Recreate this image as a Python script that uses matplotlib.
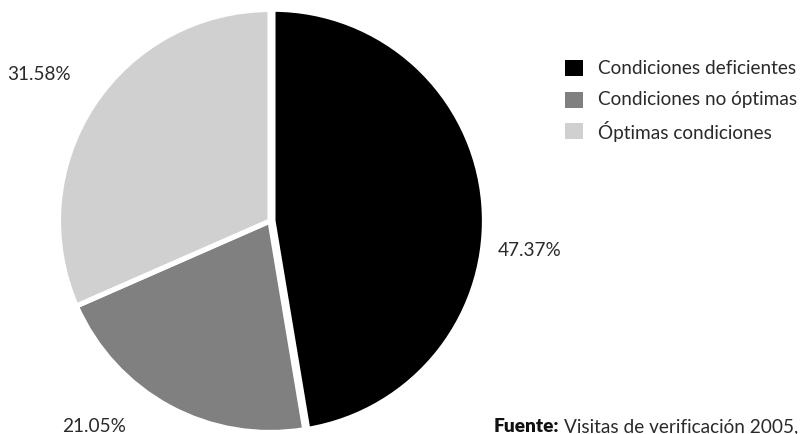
import matplotlib
matplotlib.use("Agg")
import matplotlib.pyplot as plt

plt.rcParams["font.family"] = ["Lato", "DejaVu Sans"]

# Data
categories = ["Condiciones deficientes", "Condiciones no óptimas", "Óptimas condiciones"]
values = [47.37, 21.05, 31.58]
colors = ["#000000", "#808080", "#d0d0d0"]
source_bold = "Fuente:"
source_text = "Visitas de verificación 2005,"

W, H = 803, 434
fig = plt.figure(figsize=(W / 100, H / 100), dpi=100)
ax = fig.add_axes([0, 0, 1, 1])

# pie geometry in pixel space (1 data unit = radius)
cx, cy, R = 270, 221, 211.5
explode = [0.014, 0, 0]

wedges, _ = ax.pie(
    values, colors=colors, startangle=90, counterclock=False,
    explode=explode, radius=1.0,
    wedgeprops=dict(edgecolor="white", linewidth=3.7),
)
ax.set_xlim(-cx / R, (W - cx) / R)
ax.set_ylim(-(H - cy) / R, cy / R)
ax.set_aspect("equal")
ax.axis("off")

def px(x, y):
    return x / W, 1 - y / H

TXT = "#2a2a2a"
FS = 13.7

# value labels
label_pos = [(530, 251), (94, 426), (39, 75)]
for v, (x, y) in zip(values, label_pos):
    fig.text(*px(x, y), f"{v:.2f}%", ha="center", va="center",
             fontsize=FS, color=TXT)

# legend
rows_y = [68, 100, 131]
for name, c, y in zip(categories, colors, rows_y):
    fig.patches.append(plt.Rectangle(px(565, y + 8), 18 / W, 16 / H,
                                     transform=fig.transFigure, facecolor=c,
                                     edgecolor="none"))
    fig.text(*px(598, y), name, ha="left", va="center", fontsize=FS,
             color=TXT)

# source note
fig.canvas.draw()
t1 = fig.text(*px(494, 427), source_bold, ha="left", va="center",
              fontsize=FS, fontweight="heavy", color="#111111")
r = fig.canvas.get_renderer()
bb = t1.get_window_extent(renderer=r)
fig.text(bb.x1 / W + 5 / W, 1 - 427 / H, source_text, ha="left", va="center",
         fontsize=FS, color=TXT)

fig.savefig("out.png", dpi=100)
